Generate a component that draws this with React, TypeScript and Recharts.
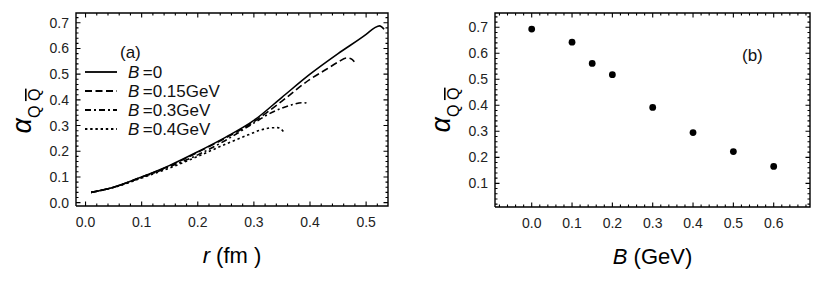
import React from "react";
import { ComposedChart, Line, XAxis, YAxis, Scatter, Legend } from "recharts";

const FONT = '"Liberation Sans", Arial, Helvetica, sans-serif';

// panel (a): coupling vs r (fm) for four field strengths
const rB0 = [0.01, 0.05, 0.1, 0.15, 0.2, 0.25, 0.3, 0.35, 0.4, 0.45, 0.5, 0.515, 0.524, 0.532];
const aB0 = [0.04, 0.06, 0.1, 0.145, 0.198, 0.255, 0.32, 0.41, 0.5, 0.58, 0.655, 0.68, 0.688, 0.675];
const rB015 = [0.01, 0.05, 0.1, 0.15, 0.2, 0.25, 0.3, 0.35, 0.4, 0.43, 0.45, 0.465, 0.473, 0.479];
const aB015 = [0.04, 0.06, 0.1, 0.143, 0.196, 0.252, 0.315, 0.395, 0.48, 0.52, 0.547, 0.563, 0.56, 0.548];
const rB03 = [0.01, 0.05, 0.1, 0.15, 0.2, 0.25, 0.3, 0.325, 0.35, 0.37, 0.385, 0.393, 0.397];
const aB03 = [0.04, 0.06, 0.098, 0.14, 0.186, 0.243, 0.31, 0.343, 0.368, 0.382, 0.389, 0.388, 0.383];
const rB04 = [0.01, 0.05, 0.1, 0.15, 0.2, 0.25, 0.29, 0.31, 0.33, 0.342, 0.349, 0.353];
const aB04 = [0.04, 0.059, 0.096, 0.135, 0.18, 0.228, 0.264, 0.281, 0.291, 0.292, 0.285, 0.276];
const legendLabels = ["0", "0.15GeV", "0.3GeV", "0.4GeV"];

// panel (b): coupling at the maximum vs B (GeV)
const bValues = [0, 0.1, 0.15, 0.2, 0.3, 0.4, 0.5, 0.6];
const alphaMax = [0.693, 0.643, 0.561, 0.518, 0.392, 0.295, 0.222, 0.165];

const xMajorA = [0, 0.1, 0.2, 0.3, 0.4, 0.5];
const yMajorA = [0, 0.1, 0.2, 0.3, 0.4, 0.5, 0.6, 0.7];
const xMajorB = [0, 0.1, 0.2, 0.3, 0.4, 0.5, 0.6];
const yMajorB = [0.1, 0.2, 0.3, 0.4, 0.5, 0.6, 0.7];

const minorTicks = (lo: number, hi: number) => {
  const out: number[] = [];
  for (let i = Math.ceil(lo / 0.02); i * 0.02 <= hi + 1e-9; i++) out.push(+(i * 0.02).toFixed(2));
  return out;
};
const isMajor = (majors: number[], v: number) => majors.some((m) => Math.abs(m - v) < 1e-6);

const pairs = (xs: number[], ys: number[]) => xs.map((x, i) => ({ x, y: ys[i] }));

const seriesA = [
  { name: legendLabels[0], data: pairs(rB0, aB0), dash: undefined },
  { name: legendLabels[1], data: pairs(rB015, aB015), dash: "7 3.5" },
  { name: legendLabels[2], data: pairs(rB03, aB03), dash: "6 3 2 3" },
  { name: legendLabels[3], data: pairs(rB04, aB04), dash: "2.4 2.8" },
];

const pointsB = pairs(bValues, alphaMax);

// domains and plot boxes (px)
const domXA: [number, number] = [-0.017, 0.539];
const domYA: [number, number] = [-0.013, 0.738];
const domXB: [number, number] = [-0.091, 0.69];
const domYB: [number, number] = [0.009, 0.755];
const boxA = { w: 312, h: 193 };
const boxB = { w: 315, h: 194 };

// Mathematica-style frame: border plus inward ticks on all four sides, in data units
function frameData(dx: number[], dy: number[], xMajor: number[], yMajor: number[], box: { w: number; h: number }) {
  const ux = (dx[1] - dx[0]) / box.w;
  const uy = (dy[1] - dy[0]) / box.h;
  const border = [
    { x: dx[0], y: dy[0] }, { x: dx[1], y: dy[0] }, { x: dx[1], y: dy[1] },
    { x: dx[0], y: dy[1] }, { x: dx[0], y: dy[0] },
  ];
  const ticks: { x: number; y: number | null }[] = [];
  minorTicks(dx[0], dx[1]).forEach((v) => {
    const l = (isMajor(xMajor, v) ? 4.5 : 2.5) * uy;
    ticks.push({ x: v, y: dy[0] }, { x: v, y: dy[0] + l }, { x: v, y: null });
    ticks.push({ x: v, y: dy[1] }, { x: v, y: dy[1] - l }, { x: v, y: null });
  });
  minorTicks(dy[0], dy[1]).forEach((v) => {
    const l = (isMajor(yMajor, v) ? 4.5 : 2.5) * ux;
    ticks.push({ x: dx[0], y: v }, { x: dx[0] + l, y: v }, { x: dx[0], y: null });
    ticks.push({ x: dx[1], y: v }, { x: dx[1] - l, y: v }, { x: dx[1], y: null });
  });
  return { border, ticks };
}

const frameA = frameData(domXA, domYA, xMajorA, yMajorA, boxA);
const frameB = frameData(domXB, domYB, xMajorB, yMajorB, boxB);

function labelTick(side: "bottom" | "left", majors: number[]) {
  return (props: any) => {
    const x = Number(props.x);
    const y = Number(props.y);
    const v = props.payload.value;
    if (!isMajor(majors, v)) return <g />;
    const txt = v.toFixed(1);
    return side === "bottom" ? (
      <text x={x} y={y + 21} textAnchor="middle" fill="#222" fontSize={14} fontFamily={FONT}>{txt}</text>
    ) : (
      <text x={x - 7} y={y + 5} textAnchor="end" fill="#222" fontSize={14} fontFamily={FONT}>{txt}</text>
    );
  };
}

function AlphaTitle({ x, y }: { x: number; y: number }) {
  return (
    <text x={x} y={y} textAnchor="middle" transform={`rotate(-90, ${x}, ${y})`} fontFamily={FONT} fill="#000">
      <tspan fontSize={27} fontStyle="italic">α</tspan>
      <tspan fontSize={16} dy={9}>{"Q "}</tspan>
      <tspan fontSize={16} style={{ textDecoration: "overline" }}>Q</tspan>
    </text>
  );
}

function LegendA({ payload }: any) {
  const items = (payload ?? []).filter((p: any) => seriesA.some((s) => s.name === p.value));
  return (
    <svg width={260} height={150} style={{ position: "absolute", left: 0, top: 0, overflow: "visible" }}>
      <text x={120} y={58} fontSize={17} fontFamily={FONT} fill="#111">(a)</text>
      {items.map((p: any, i: number) => {
        const s = seriesA.find((d) => d.name === p.value) ?? seriesA[i];
        const y = 72 + i * 19;
        return (
          <g key={s.name}>
            <line x1={85} x2={117} y1={y} y2={y} stroke="#000" strokeWidth={1.8} strokeDasharray={s.dash} />
            <text x={128} y={y + 6} fontSize={17} fontFamily={FONT} fill="#111">
              <tspan fontStyle="italic">B</tspan>
              {"\u2009=" + s.name}
            </text>
          </g>
        );
      })}
    </svg>
  );
}

function frameLines(f: { border: any[]; ticks: any[] }) {
  return [
    <Line
      key="border" data={f.border} dataKey="y" type="linear" stroke="#000" strokeWidth={1.4}
      dot={false} activeDot={false} legendType="none" isAnimationActive={false}
    />,
    <Line
      key="ticks" data={f.ticks} dataKey="y" type="linear" stroke="#000" strokeWidth={1.1}
      connectNulls={false} dot={false} activeDot={false} legendType="none" isAnimationActive={false}
    />,
  ];
}

export default function App() {
  return (
    <div style={{ position: "absolute", left: 0, top: 0 }}>
      <div style={{ position: "absolute", left: 0, top: 0 }}>
        <ComposedChart width={400} height={281} margin={{ top: 13, right: 12, left: 0, bottom: 0 }}>
          <XAxis
            dataKey="x" type="number" domain={domXA}
            ticks={minorTicks(domXA[0], domXA[1])} interval={0}
            height={75} tickSize={0} tickMargin={0} tickLine={false} axisLine={false}
            tick={labelTick("bottom", xMajorA)}
            label={(p: any) => {
              const vb = p.viewBox;
              const cx = vb.x + vb.width / 2;
              return (
                <text x={cx} y={263} textAnchor="middle" fontSize={22} fontFamily={FONT} fill="#000">
                  <tspan fontStyle="italic">r</tspan>
                  {" (fm )"}
                </text>
              );
            }}
          />
          <YAxis
            type="number" domain={domYA}
            ticks={minorTicks(domYA[0], domYA[1])} interval={0}
            width={76} tickSize={0} tickMargin={0} tickLine={false} axisLine={false}
            tick={labelTick("left", yMajorA)}
            label={() => <AlphaTitle x={31} y={111} />}
          />
          <Legend
            layout="horizontal" verticalAlign="middle" align="center"
            content={<LegendA />}
            wrapperStyle={{ position: "absolute", left: 0, top: 0, width: 260, height: 150 }}
          />
          {frameLines(frameA)}
          {seriesA.map((s) => (
            <Line
              key={s.name} name={s.name} data={s.data} dataKey="y" type="monotone"
              stroke="#000" strokeWidth={1.6} strokeDasharray={s.dash}
              dot={false} activeDot={false} isAnimationActive={false}
            />
          ))}
        </ComposedChart>
      </div>
      <div style={{ position: "absolute", left: 400, top: 0 }}>
        <ComposedChart width={417} height={281} margin={{ top: 13, right: 7, left: 0, bottom: 0 }}>
          <XAxis
            dataKey="x" type="number" domain={domXB}
            ticks={minorTicks(domXB[0], domXB[1])} interval={0}
            height={74} tickSize={0} tickMargin={0} tickLine={false} axisLine={false}
            tick={labelTick("bottom", xMajorB)}
            label={(p: any) => {
              const vb = p.viewBox;
              const cx = vb.x + vb.width / 2;
              return (
                <text x={cx} y={264} textAnchor="middle" fontSize={22} fontFamily={FONT} fill="#000">
                  <tspan fontStyle="italic">B</tspan>
                  {" (GeV)"}
                </text>
              );
            }}
          />
          <YAxis
            dataKey="y" type="number" domain={domYB}
            ticks={minorTicks(domYB[0], domYB[1])} interval={0}
            width={95} tickSize={0} tickMargin={0} tickLine={false} axisLine={false}
            tick={labelTick("left", yMajorB)}
            label={() => <AlphaTitle x={50} y={110} />}
          />
          {frameLines(frameB)}
          <Scatter
            data={pointsB} dataKey="y" fill="#000" isAnimationActive={false} legendType="none"
            shape={(p: any) => <circle cx={p.cx} cy={p.cy} r={3.4} fill="#000" />}
          />
          <text x={342} y={61} fontSize={17} fontFamily={FONT} fill="#111">(b)</text>
        </ComposedChart>
      </div>
    </div>
  );
}
